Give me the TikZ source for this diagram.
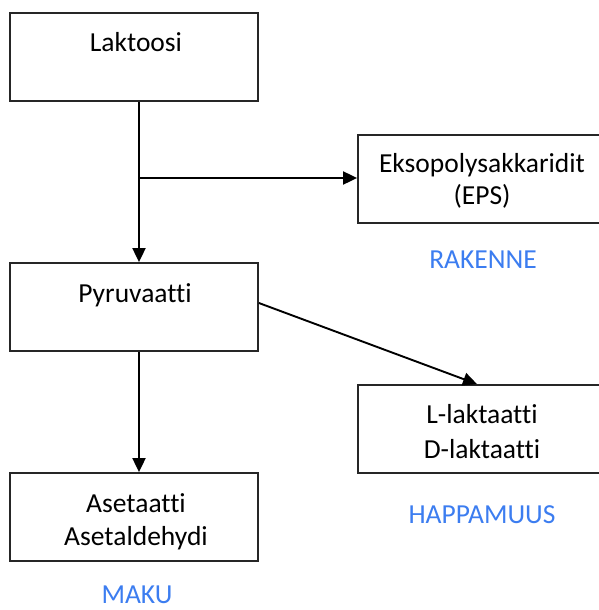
\documentclass[tikz,border=0pt]{standalone}
\usepackage{fontspec}
\setmainfont{Carlito}[Ligatures={NoCommon}]
\usetikzlibrary{arrows.meta}
\definecolor{lblblue}{RGB}{60,125,240}
\tikzset{
  box/.style={draw=black!85, line width=1.8pt, rectangle, inner sep=0pt},
  txt/.style={font=\fontsize{27.5}{33}\selectfont, inner sep=0pt, anchor=base},
  lbl/.style={font=\fontsize{27.5}{33}\selectfont, text=lblblue, inner sep=0pt, anchor=base},
  conn/.style={line width=1.9pt, -{Triangle[length=14pt,width=13pt]}}
}
\begin{document}
\begin{tikzpicture}[x=1pt,y=-1pt]
\useasboundingbox (0,0) rectangle (599,610);
\clip (0,0) rectangle (599,610);
% boxes
\node[box, minimum width=248pt, minimum height=88pt] (lak) at (134,57) {};
\node[box, minimum width=250pt, minimum height=88pt] (eps) at (483,179) {};
\node[box, minimum width=248pt, minimum height=88pt] (pyr) at (134,307) {};
\node[box, minimum width=250pt, minimum height=88pt] (lac) at (483,429) {};
\node[box, minimum width=248pt, minimum height=88pt] (ase) at (134,517) {};
% texts
\node[txt] (t1) at (136,52) {Laktoosi};
\node[txt] (t2a) at (482,172) {Eksopolysakkaridit};
\node[txt] (t2b) at (482,204) {(EPS)};
\node[txt] (t3) at (135,302) {Pyruvaatti};
\node[txt] (t4a) at (482,423) {L-laktaatti};
\node[txt] (t4b) at (482,458) {D-laktaatti};
\node[txt] (t5a) at (136,512) {Asetaatti};
\node[txt] (t5b) at (136,545) {Asetaldehydi};
% labels
\node[lbl] (l1) at (483,268) {RAKENNE};
\node[lbl] (l2) at (482,523) {HAPPAMUUS};
\node[lbl] (l3) at (137,603) {MAKU};
% connectors
\coordinate (br) at (139,178);
\draw[conn] (lak.south -| br) -- (pyr.north -| br);
\draw[conn] (br) -- (eps.west |- br);
\coordinate (ps) at (258,303);
\coordinate (pe) at (477,385);
\draw[conn] (pyr.east |- ps) -- (lac.north -| pe);
\draw[conn] (pyr.south -| br) -- (ase.north -| br);
\end{tikzpicture}
\end{document}
